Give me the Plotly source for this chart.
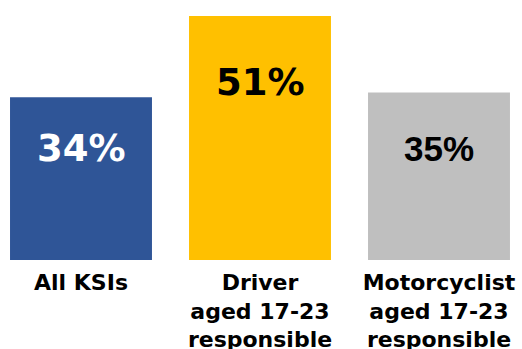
import plotly.graph_objects as go

# Share of killed or seriously injured (KSI) casualties
categories = ["All KSIs", "Driver<br>aged 17-23<br>responsible", "Motorcyclist<br>aged 17-23<br>responsible"]
values = [34, 51, 35]
value_labels = ["34%", "51%", "35%"]

bar_colors = ["#2F5597", "#FFC000", "#BFBFBF"]
label_colors = ["#FFFFFF", "#000000", "#000000"]
label_fonts = ["DejaVu Sans", "DejaVu Sans", "Liberation Sans"]
label_sizes = [37, 37, 35]
label_offsets = [-51, -66, -56]  # pixels below each bar top

x = list(range(len(categories)))

fig = go.Figure(
    go.Bar(
        x=x,
        y=values,
        width=0.793,
        marker=dict(color=bar_colors, line=dict(width=0)),
        hoverinfo="skip",
    )
)

for xi, v, txt, col, fam, sz, off in zip(x, values, value_labels, label_colors,
                                         label_fonts, label_sizes, label_offsets):
    fig.add_annotation(
        x=xi, y=v, text=f"<b>{txt}</b>", showarrow=False,
        yanchor="middle", yshift=off,
        font=dict(family=fam, size=sz, color=col),
    )

fig.update_layout(
    width=522, height=349,
    margin=dict(l=0, r=0, t=16, b=89),
    paper_bgcolor="white", plot_bgcolor="white",
    showlegend=False,
    xaxis=dict(
        range=[-0.4525, 2.4637],
        tickmode="array", tickvals=x,
        ticktext=[f"<b>{c}</b>" for c in categories],
        tickfont=dict(family="DejaVu Sans", size=22, color="#000000"),
        showgrid=False, zeroline=False, showline=False, ticks="",
        ticklabelstandoff=7, automargin=False,
    ),
    yaxis=dict(range=[0, 51], visible=False, showgrid=False, zeroline=False,
               automargin=False),
)

fig.write_html("out.html")
